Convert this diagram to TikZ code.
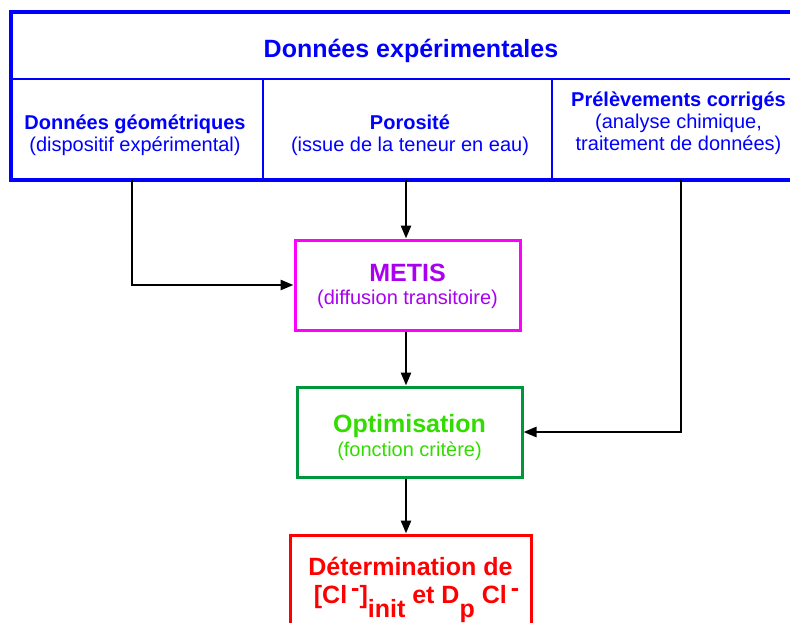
\documentclass[tikz,border=0pt]{standalone}
\usepackage{fontspec}
\setmainfont{Liberation Sans}
\usetikzlibrary{arrows.meta}
\definecolor{dblue}{RGB}{0,0,255}
\definecolor{mag}{RGB}{255,0,255}
\definecolor{purp}{RGB}{170,0,240}
\definecolor{dgreen}{RGB}{0,150,60}
\definecolor{lgreen}{RGB}{50,220,0}
\definecolor{myred}{RGB}{255,0,0}
\newcommand\mysup{\kern4pt\raisebox{7pt}{-}}
\newcommand\mysub[1]{\raisebox{-14pt}{#1}}
\begin{document}
\begin{tikzpicture}[x=1pt,y=-1pt,
  arr/.style={line width=2.6pt,draw=black,-{Triangle[length=13pt,width=10pt]}},
  gridline/.style={draw=dblue,line width=2.5pt},
  lbl/.style={align=center,inner sep=0pt,anchor=base,text=dblue,font=\fontsize{20}{22}\selectfont},
  flowbox/.style={line width=3pt,align=center,inner sep=0pt},
  bigtxt/.style={font=\fontsize{25}{28}\selectfont\bfseries}
]
\useasboundingbox (0,0) rectangle (790,622);
% top table
\draw[gridline,line width=3.2pt] (11,12) rectangle (805,180);
\draw[gridline] (11,79) -- (805,79);
\draw[gridline,line width=2pt] (263,79) -- (263,180);
\draw[gridline,line width=2pt] (552,79) -- (552,180);
\node[lbl,bigtxt] (title) at (411,57.3) {Données expérimentales};
\node[lbl] (geo) at (135,151.3) {\textbf{Données géométriques}\\(dispositif expérimental)};
\node[lbl] (poro) at (410,151.3) {\textbf{Porosité}\\(issue de la teneur en eau)};
\node[lbl] (prel) at (678.5,150.7) {\textbf{Prélèvements corrigés}\\(analyse chimique,\\traitement de données)};
\coordinate (geoout) at (132,180);
\coordinate (poroout) at (406,180);
\coordinate (prelout) at (681,180);
% flow boxes
\node[flowbox,draw=mag,text=purp,minimum width=225,minimum height=90,
      font=\fontsize{20}{22.6}\selectfont,text height=43.6pt,text depth=5pt] (metis) at (407.5,285)
  {{\fontsize{25}{28}\selectfont\bfseries METIS}\\(diffusion transitoire)};
\node[flowbox,draw=dgreen,text=lgreen,minimum width=225,minimum height=90,
      font=\fontsize{20}{24}\selectfont,text height=53pt,text depth=5pt] (opt) at (409.5,432)
  {{\fontsize{25}{28}\selectfont\bfseries Optimisation}\\(fonction critère)};
\node[flowbox,draw=myred,text=myred,minimum width=241,minimum height=106,
      font=\fontsize{25}{28}\selectfont\bfseries,text height=50pt,text depth=20pt] (det) at (410.5,588)
  {Détermination de\\\hspace*{12pt}[Cl\mysup]\mysub{init} et D\mysub{p} Cl\mysup};
% connectors
\draw[arr] (geoout) |- (metis.west);
\draw[arr] (poroout) -- (poroout |- metis.north);
\draw[arr] (metis.south -| poroout) -- (opt.north -| poroout);
\draw[arr] (prelout) |- (opt.east);
\draw[arr] (opt.south -| poroout) -- (det.north -| poroout);
\end{tikzpicture}
\end{document}
